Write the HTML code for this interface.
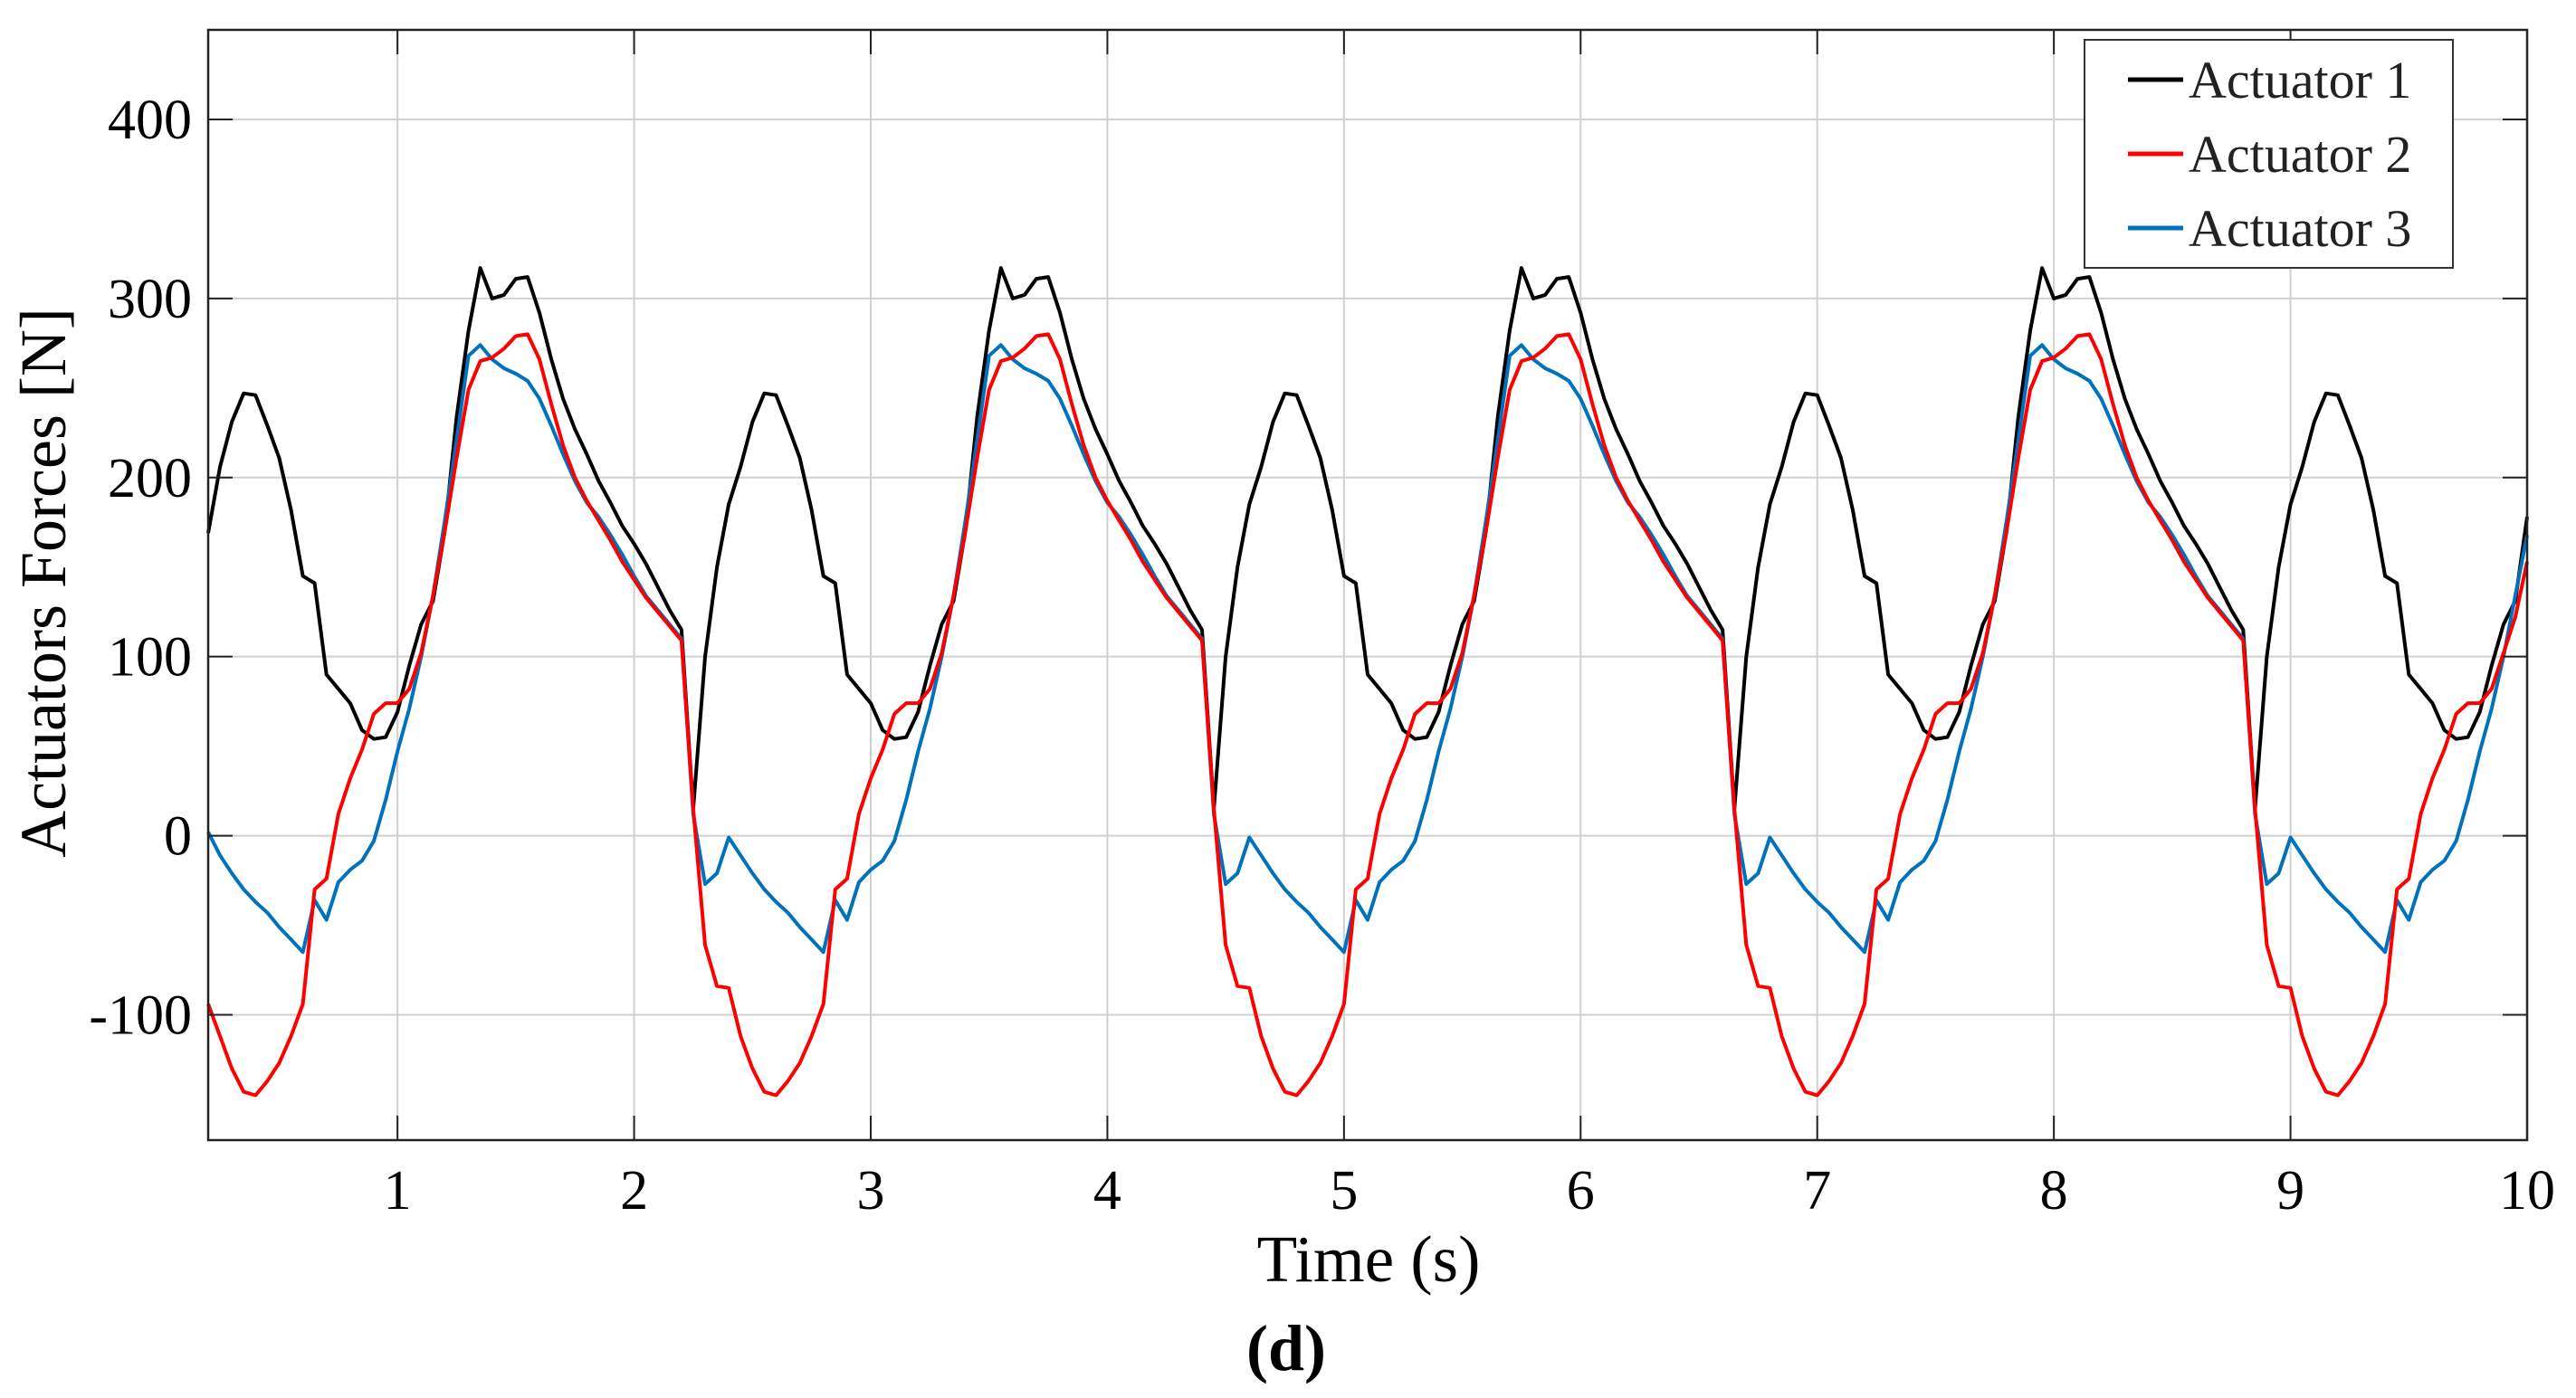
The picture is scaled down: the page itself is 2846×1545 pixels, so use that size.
<!DOCTYPE html>
<html><head><meta charset="utf-8"><style>
html,body{margin:0;padding:0;background:#fff;}
svg{display:block;font-family:"Liberation Serif",serif;}
</style></head><body>
<svg id="chart" width="2846" height="1545" viewBox="0 0 2846 1545" xmlns="http://www.w3.org/2000/svg">
<rect x="0" y="0" width="2846" height="1545" fill="#fff"/>
<g id="grid"></g>
<g id="series"></g>
<g id="axes"></g>
<text x="1512" y="1416" font-size="73" text-anchor="middle">Time (s)</text>
<text transform="translate(72,644) rotate(-90)" font-size="72" text-anchor="middle">Actuators Forces [N]</text>
<text x="1421" y="1514" font-size="72" font-weight="bold" text-anchor="middle">(d)</text>
<g>
<rect x="2303" y="44" width="407" height="252" fill="#fff" stroke="#333" stroke-width="2"/>
<line x1="2351" y1="88" x2="2412" y2="88" stroke="#000" stroke-width="5"/>
<text x="2418" y="108" font-size="58" fill="#222">Actuator 1</text>
<line x1="2351" y1="170" x2="2412" y2="170" stroke="#ff0000" stroke-width="5"/>
<text x="2418" y="190" font-size="58" fill="#222">Actuator 2</text>
<line x1="2351" y1="252" x2="2412" y2="252" stroke="#0072bd" stroke-width="5"/>
<text x="2418" y="272" font-size="58" fill="#222">Actuator 3</text>
</g>
</svg>
<script>
const tStart = 0.2;
const tStep = 0.05;
const xTicks = [1,2,3,4,5,6,7,8,9,10];
const yTicks = [-100,0,100,200,300,400];
const yTickLabels = ["-100","0","100","200","300","400"];
const actuator1 = [
169,206,231,247,246,229,211,182,145,141,90,82,74,59,54,55,69,95,118,131,170,234,282,317,300,302,311,312,292,266,244,227,213,198,186,173,163,152,139,126,115,15,100,150,
185,206,231,247,246,229,211,182,145,141,90,82,74,59,54,55,69,95,118,131,170,234,282,317,300,302,311,312,292,266,244,227,213,198,186,173,163,152,139,126,115,15,100,150,
185,206,231,247,246,229,211,182,145,141,90,82,74,59,54,55,69,95,118,131,170,234,282,317,300,302,311,312,292,266,244,227,213,198,186,173,163,152,139,126,115,15,100,150,
185,206,231,247,246,229,211,182,145,141,90,82,74,59,54,55,69,95,118,131,170,234,282,317,300,302,311,312,292,266,244,227,213,198,186,173,163,152,139,126,115,15,100,150,
185,206,231,247,246,229,211,182,145,141,90,82,74,59,54,55,69,95,118,131,178];
const actuator2 = [
-94,-112,-130,-143,-145,-137,-127,-112,-94,-30,-24,12,32,48,68,74,74,82,102,134,170,211,249,265,267,272,279,280,266,241,218,200,187,176,165,153,143,133,125,117,109,15,-61,-84,
-85,-112,-130,-143,-145,-137,-127,-112,-94,-30,-24,12,32,48,68,74,74,82,102,134,170,211,249,265,267,272,279,280,266,241,218,200,187,176,165,153,143,133,125,117,109,15,-61,-84,
-85,-112,-130,-143,-145,-137,-127,-112,-94,-30,-24,12,32,48,68,74,74,82,102,134,170,211,249,265,267,272,279,280,266,241,218,200,187,176,165,153,143,133,125,117,109,15,-61,-84,
-85,-112,-130,-143,-145,-137,-127,-112,-94,-30,-24,12,32,48,68,74,74,82,102,134,170,211,249,265,267,272,279,280,266,241,218,200,187,176,165,153,143,133,125,117,109,15,-61,-84,
-85,-112,-130,-143,-145,-137,-127,-112,-94,-30,-24,12,32,48,68,74,74,82,102,122,153];
const actuator3 = [
2,-11,-21,-30,-37,-43,-51,-58,-65,-36,-47,-26,-19,-14,-3,20,47,71,100,134,176,221,268,274,266,261,258,254,244,229,213,198,186,178,168,157,145,134,126,118,110,12,-27,-21,
-1,-11,-21,-30,-37,-43,-51,-58,-65,-36,-47,-26,-19,-14,-3,20,47,71,100,134,176,221,268,274,266,261,258,254,244,229,213,198,186,178,168,157,145,134,126,118,110,12,-27,-21,
-1,-11,-21,-30,-37,-43,-51,-58,-65,-36,-47,-26,-19,-14,-3,20,47,71,100,134,176,221,268,274,266,261,258,254,244,229,213,198,186,178,168,157,145,134,126,118,110,12,-27,-21,
-1,-11,-21,-30,-37,-43,-51,-58,-65,-36,-47,-26,-19,-14,-3,20,47,71,100,134,176,221,268,274,266,261,258,254,244,229,213,198,186,178,168,157,145,134,126,118,110,12,-27,-21,
-1,-11,-21,-30,-37,-43,-51,-58,-65,-36,-47,-26,-19,-14,-3,20,47,71,100,134,168];

const NS = "http://www.w3.org/2000/svg";
const L = 230, R = 2792, T = 33, B = 1260;
const xMin = 0.2, xMax = 10, yMin = -170, yMax = 450;
function xs(v){ return L + (v - xMin) / (xMax - xMin) * (R - L); }
function ys(v){ return B - (v - yMin) / (yMax - yMin) * (B - T); }
function mk(tag, attrs, parent){
  const e = document.createElementNS(NS, tag);
  for (const k in attrs) e.setAttribute(k, attrs[k]);
  parent.appendChild(e);
  return e;
}
const grid = document.getElementById('grid');
const axes = document.getElementById('axes');
const series = document.getElementById('series');

xTicks.forEach(function(t){
  const x = xs(t);
  const g = mk('line', {x1:x, y1:T, x2:x, y2:B, stroke:'#d0d0d0', 'stroke-width':2}, grid);
  
  
  const tk = mk('line', {x1:x, y1:B, x2:x, y2:B-27, stroke:'#222', 'stroke-width':2}, axes);
  
  
  const tk2 = mk('line', {x1:x, y1:T, x2:x, y2:T+27, stroke:'#222', 'stroke-width':2}, axes);
  
  
  const lb = mk('text', {x:x, y:B+76, 'font-size':62, 'text-anchor':'middle'}, axes);
  lb.textContent = String(t);
  
  
});
yTicks.forEach(function(v, i){
  const y = ys(v);
  const g = mk('line', {x1:L, y1:y, x2:R, y2:y, stroke:'#d0d0d0', 'stroke-width':2}, grid);
  
  
  const tk = mk('line', {x1:L, y1:y, x2:L+27, y2:y, stroke:'#222', 'stroke-width':2}, axes);
  
  
  const tk2 = mk('line', {x1:R, y1:y, x2:R-27, y2:y, stroke:'#222', 'stroke-width':2}, axes);
  
  
  const lb = mk('text', {x:L-18, y:y+21, 'font-size':62, 'text-anchor':'end'}, axes);
  lb.textContent = yTickLabels[i];
  
  
});
const frame = mk('rect', {x:L, y:T, width:R-L, height:B-T, fill:'none', stroke:'#222', 'stroke-width':2.5}, axes);



function drawSeries(vals, color, name){
  const pts = vals.map(function(v, k){ return xs(tStart + k * tStep).toFixed(1) + ',' + ys(v).toFixed(1); }).join(' ');
  const p = mk('polyline', {points:pts, fill:'none', stroke:color, 'stroke-width':4, 'stroke-linejoin':'round'}, series);
  
  
}
drawSeries(actuator1, '#000000', 'actuator-1-line');
drawSeries(actuator3, '#0072bd', 'actuator-3-line');
drawSeries(actuator2, '#ff0000', 'actuator-2-line');
</script>
</body></html>
